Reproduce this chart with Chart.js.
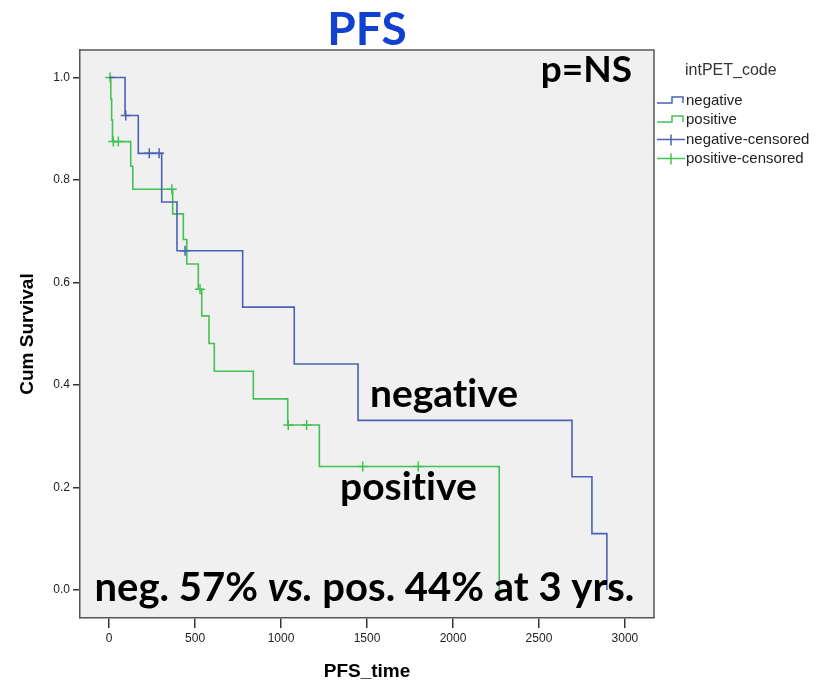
<!DOCTYPE html>
<html lang="en">
<head>
    <meta charset="UTF-8">
    <title>PFS</title>
    <script src="https://cdn.jsdelivr.net/npm/chart.js"></script>
    <style>
        html, body { margin: 0; padding: 0; background: #ffffff; }
        #km { display: block; }
    </style>
</head>
<body>
    <canvas id="km" width="827" height="683"></canvas>

<script>
    // Kaplan-Meier steps (time, cum survival)
    const negTimes = [0, 93, 170, 306, 395, 777, 1077, 1448, 2692, 2808, 2895];
    const negSurv = [1.0, 0.926, 0.852, 0.757, 0.662, 0.552, 0.441, 0.331, 0.221, 0.110, 0.0];
    const negCensorTimes = [97, 234, 291, 442];
    const negCensorSurv = [0.926, 0.852, 0.852, 0.662];

    const posTimes = [0, 10, 15, 20, 126, 138, 370, 432, 452, 519, 539, 581, 612, 839, 1039, 1223, 2269];
    const posSurv = [1.0, 0.958, 0.917, 0.875, 0.827, 0.782, 0.734, 0.684, 0.636, 0.587, 0.535, 0.481, 0.427, 0.373, 0.322, 0.241, 0.0];
    const posCensorTimes = [6, 25, 54, 365, 529, 1042, 1149, 1475, 1798];
    const posCensorSurv = [1.0, 0.875, 0.875, 0.782, 0.587, 0.322, 0.322, 0.241, 0.241];

    const xTicks = [0, 500, 1000, 1500, 2000, 2500, 3000];
    const yTicks = [0.0, 0.2, 0.4, 0.6, 0.8, 1.0];

    const legendTitle = 'intPET_code';
    const legendLabels = ['negative', 'positive', 'negative-censored', 'positive-censored'];

    const BLUE = '#4b61b5';
    const GREEN = '#44c154';
    const BIG = '700 39px Lato, "Open Sans", sans-serif';
    const BIG_IT = 'italic 700 39px Lato, "Open Sans", sans-serif';

    function pts(xs, ys) {
        return xs.map((x, i) => ({ x: x, y: ys[i] }));
    }

    // Lato joins "ti" into a ligature; a zero width non-joiner keeps the letters apart
    function noLig(s) {
        return s.replace(/ti/g, 't\u200Ci');
    }

    const kmPlugin = {
        id: 'kmExtras',
        beforeDraw(chart) {
            const { ctx, chartArea: a } = chart;
            ctx.save();
            ctx.fillStyle = '#f0f0f0';
            ctx.fillRect(a.left, a.top, a.right - a.left, a.bottom - a.top);
            ctx.restore();
        },
        afterDraw(chart) {
            const { ctx, chartArea: a } = chart;
            const xs = chart.scales.x, ys = chart.scales.y;
            ctx.save();

            // frame, top + right (left/bottom come from the axes)
            ctx.strokeStyle = '#555';
            ctx.lineWidth = 1.5;
            ctx.beginPath();
            ctx.moveTo(a.left, a.top);
            ctx.lineTo(a.right, a.top);
            ctx.lineTo(a.right, a.bottom);
            ctx.stroke();

            // title
            ctx.fillStyle = '#1240d0';
            ctx.font = '700 46px Lato, "Open Sans", sans-serif';
            ctx.textAlign = 'center';
            ctx.textBaseline = 'alphabetic';
            ctx.fillText('PFS', (a.left + a.right) / 2, 45);

            // annotations, placed in data coordinates
            ctx.fillStyle = '#000';
            ctx.font = '700 37px Lato, "Open Sans", sans-serif';
            ctx.textAlign = 'right';
            ctx.fillText('p=NS', xs.getPixelForValue(3041), ys.getPixelForValue(0.991));
            ctx.font = BIG;
            ctx.textAlign = 'left';
            ctx.fillText(noLig('negative'), xs.getPixelForValue(1517), ys.getPixelForValue(0.358));
            ctx.fillText(noLig('positive'), xs.getPixelForValue(1343), ys.getPixelForValue(0.176));

            // bottom line with italic "vs."
            const parts = [
                ['neg. 57% ', '700 40px Lato, "Open Sans", sans-serif'],
                ['vs.', 'italic 700 40px Lato, "Open Sans", sans-serif'],
                [' pos. 44% at 3 yrs.', '700 40px Lato, "Open Sans", sans-serif']
            ];
            let total = 0;
            parts.forEach(p => { ctx.font = p[1]; total += ctx.measureText(p[0]).width; });
            let px = xs.getPixelForValue(1485) - total / 2;
            const py = ys.getPixelForValue(-0.021);
            parts.forEach(p => {
                ctx.font = p[1];
                ctx.fillText(p[0], px, py);
                px += ctx.measureText(p[0]).width;
            });

            // legend
            const lx = a.right + 3;
            ctx.fillStyle = '#333';
            ctx.font = '16px "Liberation Sans", Arial, sans-serif';
            ctx.textBaseline = 'middle';
            ctx.fillText(legendTitle, lx + 28, 71);

            const rowY = [101, 120, 139.5, 158.5];
            const colors = [BLUE, GREEN, BLUE, GREEN];
            ctx.font = '15px "Liberation Sans", Arial, sans-serif';
            legendLabels.forEach((lab, i) => {
                const y = rowY[i];
                ctx.strokeStyle = colors[i];
                ctx.lineWidth = 1.5;
                ctx.beginPath();
                if (i < 2) {
                    ctx.moveTo(lx, y + 2);
                    ctx.lineTo(lx + 15, y + 2);
                    ctx.lineTo(lx + 15, y - 4);
                    ctx.lineTo(lx + 26, y - 4);
                    ctx.lineTo(lx + 26, y + 2);
                } else {
                    ctx.moveTo(lx, y);
                    ctx.lineTo(lx + 28, y);
                    ctx.moveTo(lx + 14, y - 5);
                    ctx.lineTo(lx + 14, y + 6);
                }
                ctx.stroke();
                ctx.fillStyle = '#222';
                ctx.fillText(lab, lx + 29, y);
            });

            ctx.restore();
        }
    };

    const ctx = document.getElementById('km').getContext('2d');

    const kmChart = new Chart(ctx, {
        type: 'line',
        data: {
            datasets: [
                {
                    label: 'negative',
                    data: pts(negTimes, negSurv),
                    stepped: true,
                    borderColor: BLUE,
                    borderWidth: 1.6,
                    pointRadius: 0,
                    fill: false
                },
                {
                    label: 'positive',
                    data: pts(posTimes, posSurv),
                    stepped: true,
                    borderColor: GREEN,
                    borderWidth: 1.6,
                    pointRadius: 0,
                    fill: false
                },
                {
                    label: 'negative-censored',
                    data: pts(negCensorTimes, negCensorSurv),
                    showLine: false,
                    pointStyle: 'cross',
                    pointRadius: 5,
                    pointBorderWidth: 1.5,
                    borderColor: BLUE
                },
                {
                    label: 'positive-censored',
                    data: pts(posCensorTimes, posCensorSurv),
                    showLine: false,
                    pointStyle: 'cross',
                    pointRadius: 5,
                    pointBorderWidth: 1.5,
                    borderColor: GREEN
                }
            ]
        },
        options: {
            responsive: false,
            animation: false,
            layout: { padding: { left: 0, top: 50, right: 173, bottom: 0 } },
            plugins: {
                legend: { display: false },
                tooltip: { enabled: false }
            },
            scales: {
                x: {
                    type: 'linear',
                    min: -169,
                    max: 3169,
                    afterBuildTicks: s => { s.ticks = xTicks.map(v => ({ value: v })); },
                    afterFit: s => { s.height = 65; },
                    grid: { drawOnChartArea: false, drawTicks: true, tickLength: 10, color: '#333', lineWidth: 1.5 },
                    border: { display: true, color: '#555', width: 1.5 },
                    ticks: {
                        autoSkip: false,
                        maxRotation: 0,
                        padding: 3,
                        color: '#222',
                        callback: v => String(v),
                        font: { family: '"Liberation Sans", Arial, sans-serif', size: 12 }
                    },
                    title: {
                        display: true,
                        text: 'PFS_time',
                        color: '#000',
                        font: { family: '"Liberation Sans", Arial, sans-serif', size: 19, weight: 'bold', lineHeight: 1.2 },
                        padding: { top: 4, bottom: 0 }
                    }
                },
                y: {
                    type: 'linear',
                    min: -0.0546,
                    max: 1.0537,
                    afterBuildTicks: s => { s.ticks = yTicks.map(v => ({ value: v })); },
                    afterFit: s => { s.width = 80; },
                    grid: { drawOnChartArea: false, drawTicks: true, tickLength: 7, color: '#333', lineWidth: 1.5 },
                    border: { display: true, color: '#555', width: 1.5 },
                    ticks: {
                        padding: 3,
                        color: '#222',
                        callback: v => v.toFixed(1),
                        font: { family: '"Liberation Sans", Arial, sans-serif', size: 12 }
                    },
                    title: {
                        display: true,
                        text: 'Cum Survival',
                        color: '#000',
                        font: { family: '"Liberation Sans", Arial, sans-serif', size: 19, weight: 'bold', lineHeight: 1.2 },
                        padding: { top: 16, bottom: 0 }
                    }
                }
            }
        },
        plugins: [kmPlugin]
    });
</script>
</body>
</html>
